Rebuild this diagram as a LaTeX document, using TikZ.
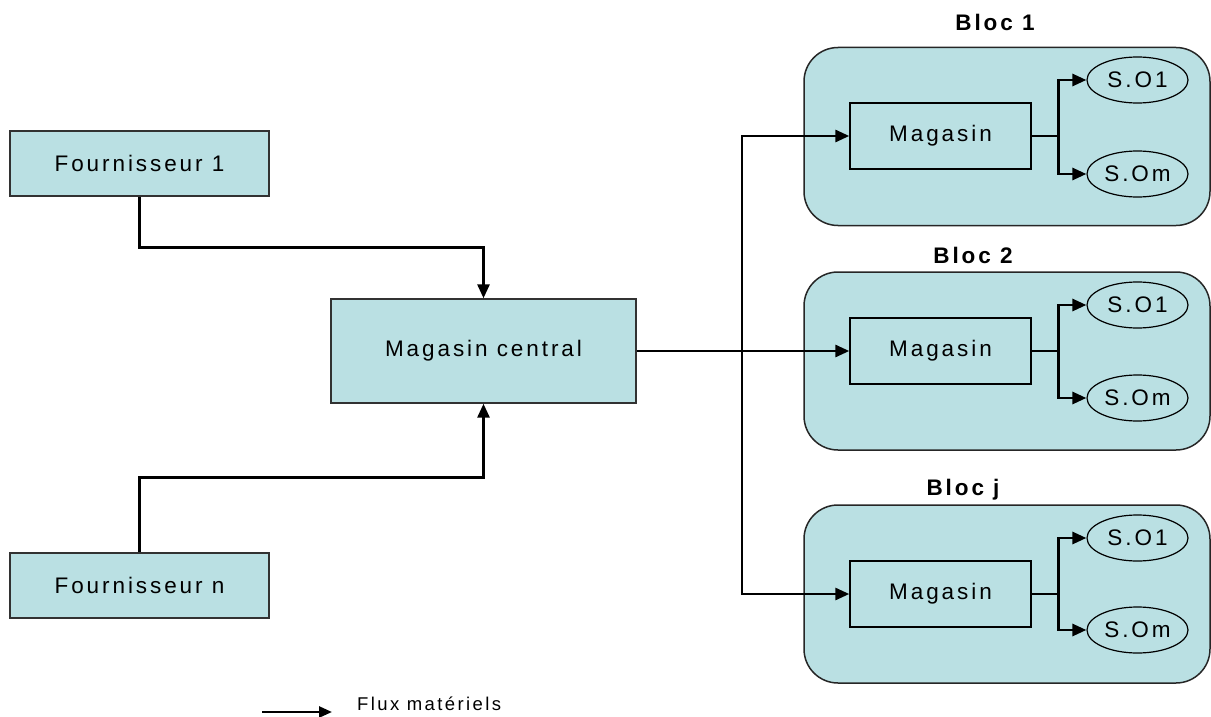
\documentclass[tikz,border=0pt]{standalone}
\usepackage{fontspec}
\setmainfont{Liberation Sans}[LetterSpace=13]
\usetikzlibrary{arrows.meta,shapes.geometric}
\definecolor{boxfill}{RGB}{186,224,227}
\definecolor{edge}{RGB}{50,50,50}
\tikzset{
  plainbox/.style={draw=edge,line width=1.4pt,fill=boxfill,rectangle,inner sep=0pt,font=\fontsize{22.5}{26}\selectfont},
  blocbox/.style={draw=black!85,line width=1.5pt,fill=boxfill,rectangle,rounded corners=34pt,minimum width=406pt,minimum height=178pt,inner sep=0pt},
  magbox/.style={draw=black,line width=1.4pt,rectangle,minimum width=181pt,minimum height=66pt,inner sep=0pt,font=\fontsize{22.5}{26}\selectfont},
  sobox/.style={draw=black,line width=1.2pt,ellipse,minimum width=101pt,minimum height=46pt,inner sep=0pt,font=\fontsize{22.5}{26}\selectfont},
  bloclabel/.style={font=\bfseries\fontsize{22.5}{26}\selectfont,inner sep=0pt},
  arr/.style={line width=2.8pt,-{Triangle[length=14pt,width=12pt]}},
}
\begin{document}
\begin{tikzpicture}[x=1pt,y=-1pt]
\useasboundingbox (0,0) rectangle (1211,717);
% suppliers and central store
\node[plainbox,minimum width=259pt,minimum height=65pt] (f1) at (139.5,163.5) {Fournisseur 1};
\node[plainbox,minimum width=259pt,minimum height=65pt] (fn) at (139.5,585.5) {Fournisseur n};
\node[plainbox,minimum width=305pt,minimum height=104pt] (mc) at (483.5,351) {Magasin central};
% blocs
\node[blocbox] (bl1) at (1007,136.5) {};
\node[blocbox] (bl2) at (1007,361) {};
\node[blocbox] (blj) at (1007,594) {};
\node[bloclabel] (t1) at (995,22) {Bloc 1};
\node[bloclabel] (t2) at (973,255) {Bloc 2};
\node[bloclabel] (tj) at (963,490) {Bloc j};
% stores in blocs
\node[magbox] (m1) at (940.5,136) {Magasin};
\node[magbox] (m2) at (940.5,351) {Magasin};
\node[magbox] (mj) at (940.5,594) {Magasin};
% services
\node[sobox] (s11) at (1137.5,80) {S.O1};
\node[sobox] (s1m) at (1137.5,174) {S.Om};
\node[sobox] (s21) at (1137.5,305) {S.O1};
\node[sobox] (s2m) at (1137.5,398) {S.Om};
\node[sobox] (sj1) at (1137.5,538) {S.O1};
\node[sobox] (sjm) at (1137.5,630) {S.Om};
% supplier connectors
\draw[arr] (f1.south) -- ++(0,51) -| (mc.north);
\draw[arr] (fn.north) -- ++(0,-75) -| (mc.south);
% distribution
\coordinate (trunk) at (742,351);
\draw[arr] (mc.east) -- (m2.west);
\draw[arr] (trunk) |- (m1.west);
\draw[arr] (trunk) |- (mj.west);
% branches
\foreach \m/\a/\b in {m1/s11/s1m,m2/s21/s2m,mj/sj1/sjm}{
  \draw[arr] (\m.east) -- ++(27,0) |- (\a.west);
  \draw[arr] (\m.east) -- ++(27,0) |- (\b.west);
}
% legend
\coordinate (la) at (262,712);
\coordinate (lb) at (332,712);
\draw[line width=2.6pt,-{Triangle[length=13pt,width=11pt]}] (la) -- (lb);
\node[anchor=west,inner sep=0pt,font=\fontsize{18.5}{22}\selectfont] (leg) at (357,704) {Flux matériels};
\end{tikzpicture}
\end{document}
